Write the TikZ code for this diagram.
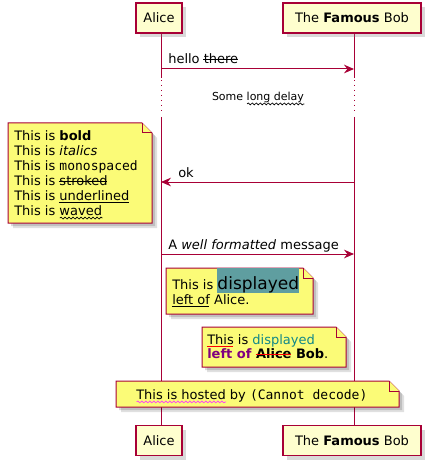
\documentclass[tikz,border=0pt]{standalone}
\usepackage{fontspec}
\setmainfont{DejaVu Sans}
\setmonofont{DejaVu Sans Mono}
\usetikzlibrary{arrows.meta, shadows, decorations.pathmorphing}

\definecolor{umlred}{HTML}{A80036}
\definecolor{partfill}{HTML}{FEFECE}
\definecolor{notefill}{HTML}{FBFB77}
\definecolor{cadet}{HTML}{5F9EA0}
\definecolor{tealtext}{HTML}{118888}
\definecolor{umlpurple}{HTML}{800080}
\definecolor{wavepink}{HTML}{FF33FF}
\definecolor{markred}{HTML}{FF0000}

\newsavebox{\markbox}
\newcommand{\strikeit}[2][black]{\sbox{\markbox}{#2}\usebox{\markbox}\llap{\tikz[baseline=0pt]\draw[#1, line width=0.75pt] (0pt,3pt) -- (\wd\markbox,3pt);}}
\newcommand{\underit}[2][black]{\sbox{\markbox}{#2}\usebox{\markbox}\llap{\tikz[baseline=0pt]\draw[#1, line width=0.75pt] (0pt,-1.6pt) -- (\wd\markbox,-1.6pt);}}
\newcommand{\waveit}[2][black]{\sbox{\markbox}{#2}\rlap{\tikz[baseline=0pt]\draw[#1, line width=0.5pt, decorate,
  decoration={snake, amplitude=0.7pt, segment length=3pt}] (0pt,-2.2pt) -- (\wd\markbox,-2.2pt);}\usebox{\markbox}}

% folded note: x1 y1 x2 y2 (px)
\newcommand{\umlnote}[4]{%
  \fill[black, opacity=0.12, shift={(5,5)}] (#1,#2) -- (#3-10,#2) -- (#3,#2+10) -- (#3,#4) -- (#1,#4) -- cycle;
  \fill[black, opacity=0.15, shift={(3,3)}] (#1,#2) -- (#3-10,#2) -- (#3,#2+10) -- (#3,#4) -- (#1,#4) -- cycle;
  \filldraw[notebox] (#1,#2) -- (#3-10,#2) -- (#3,#2+10) -- (#3,#4) -- (#1,#4) -- cycle;
  \draw[notebox] (#3-10,#2) -- (#3-10,#2+10) -- (#3,#2+10);
}

\begin{document}
\begin{tikzpicture}[x=0.75pt, y=-0.75pt,
    every node/.style={font=\fontsize{9.75pt}{11.25pt}\selectfont},
    part/.style={draw=umlred, fill=partfill, line width=1.1pt, inner sep=0pt,
      minimum height=22.5pt, drop shadow={shadow xshift=3pt, shadow yshift=-3pt, opacity=0.3}},
    life/.style={draw=umlred, line width=0.75pt},
    delayline/.style={life, dash pattern=on 0.75pt off 3pt},
    msg/.style={draw=umlred, line width=0.75pt, -{Stealth[length=7.5pt, width=6.5pt, inset=2.5pt]}},
    lbl/.style={anchor=base west, inner sep=0pt},
    notebox/.style={draw=umlred, fill=notefill, line width=0.75pt, line join=miter}]
  \useasboundingbox (0,0) rectangle (439,474);

  % lifelines
  \coordinate (aT) at (161,33);
  \coordinate (bT) at (354,33);
  \coordinate (aB) at (161,425);
  \coordinate (bB) at (354,425);
  \draw[life] (aT) -- (161,78);
  \draw[life] (bT) -- (354,78);
  \draw[delayline] (161,80) -- (161,115);
  \draw[delayline] (354,80) -- (354,115);
  \draw[life] (161,117) -- (aB);
  \draw[life] (354,117) -- (bB);

  \node[part, minimum width=34.5pt] (alice) at (159,18) {Alice};
  \node[part, minimum width=103.5pt] (bob) at (352,18) {The \textbf{Famous} Bob};
  \node[part, minimum width=34.5pt] (alice2) at (159,440.5) {Alice};
  \node[part, minimum width=103.5pt] (bob2) at (352,440.5) {The \textbf{Famous} Bob};

  % messages
  \coordinate (a1) at (161,69);
  \coordinate (b1) at (354,69);
  \draw[msg] (a1) -- (b1);
  \node[lbl] (m1) at (168,64) {hello \strikeit{there}};

  \node[lbl, anchor=base, font=\fontsize{8.25pt}{10pt}\selectfont] (delay) at (258,101) {Some \waveit{long delay}};

  \coordinate (a2) at (161,182);
  \coordinate (b2) at (354,182);
  \draw[msg] (b2) -- (a2);
  \node[lbl] (m2) at (178,177) {ok};

  \coordinate (a3) at (161,254);
  \coordinate (b3) at (354,254);
  \draw[msg] (a3) -- (b3);
  \node[lbl] (m3) at (168,249) {A \textit{well formatted} message};

  % notes
  \umlnote{8}{123}{152}{223}
  \node[anchor=north west, inner sep=0pt, align=left] (n0) at (14,130)
    {This is \textbf{bold}\\This is \textit{italics}\\This is \texttt{monospaced}\\
     This is \strikeit{stroked}\\This is \underit{underlined}\\This is \waveit{waved}};

  \umlnote{166}{268}{313}{314}
  \node[lbl] (n1) at (172,289) {This is {\setlength{\fboxsep}{0pt}\colorbox{cadet}{\rule[-1.5pt]{0pt}{17.25pt}\fontsize{12.75pt}{15pt}\selectfont displayed}}};
  \node[lbl] (n1b) at (172,304) {\underit{left of} Alice.};

  \umlnote{202}{327}{346}{367}
  \node[lbl] (n2) at (207,344) {\underit[markred]{This} is \textcolor{tealtext}{displayed}};
  \node[lbl] (n2b) at (207,358) {\textbf{\textcolor{umlpurple}{left of} \strikeit[markred]{Alice} Bob}.};

  \umlnote{116}{381}{399}{407}
  \node[lbl] (n3) at (136,399) {\waveit[wavepink]{This is hosted} by \texttt{(Cannot decode)}};
\end{tikzpicture}
\end{document}
